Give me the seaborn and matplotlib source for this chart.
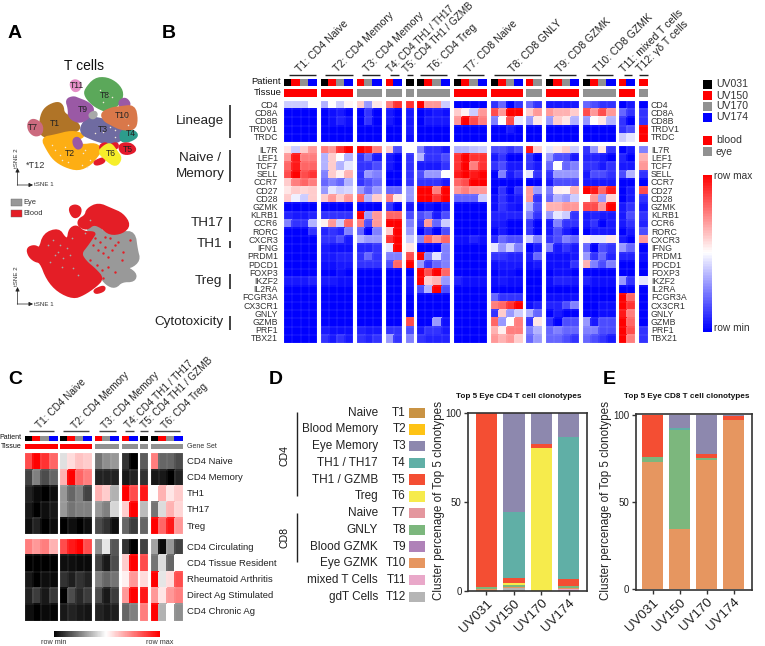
import numpy as np
import pandas as pd
import matplotlib
matplotlib.use("Agg")
import matplotlib.pyplot as plt
from matplotlib.colors import LinearSegmentedColormap, ListedColormap
import seaborn as sns

sns.set_theme(style="white")
plt.rcParams['font.family'] = ['Liberation Sans', 'DejaVu Sans']

W, H = 765, 646
# ---------- Panel B data (0 = row min, 5 = mid, 10 = row max)
GENES_TOP = ["CD4", "CD8A", "CD8B", "TRDV1", "TRDC"]
GENES_BOT = ["IL7R", "LEF1", "TCF7", "SELL", "CCR7", "CD27", "CD28", "GZMK", "KLRB1", "CCR6", "RORC", "CXCR3", "IFNG",
             "PRDM1", "PDCD1", "FOXP3", "IKZF2", "IL2RA", "FCGR3A", "CX3CR1", "GNLY", "GZMB", "PRF1", "TBX21"]
CD4 = [4,4,4,5, 3.5,5,4,5.2, 6,3,5.5, 7.5,9, 9, 10,7,7,4, 0,0,0,0, 1,2,0,1,2,1, .5,.5,.5,.5, 2,1.5,1,1, 0,.5, 0]
CD8A = [0,0,0,0, 0,.3,.5,0, 0,1,0, .5,0, .5, 0,.3,.5,.3, 6,5.3,4,7, 8.5,7,10,10,6,7, 7,6.5,6.5,6, 8.5,7,8.5,7, 2,1, 1]
CD8B = [0,0,0,0, 0,.3,.7,.3, 0,1,0, .5,0, .5, 0,.5,.5,.5, 7,10,8.5,7.5, 2.5,5,8.5,4.5,3,5.5, 3,6,5.5,3.5, 3,5,5.5,3.5, 1,0, 1]
TRDV1 = [0,0,0,0, 0,0,0,0, 0,0,0, 0,0, .5, 0,0,0,0, 0,0,0,0, 0,0,.5,0,0,0, 0,0,0,0, 0,0,0,0, 1,1.5, 10]
TRDC = [0,0,0,0, 0,0,0,0, 0,0,0, 0,0, .3, 0,0,0,0, 0,0,0,0, 0,0,0,0,0,0, 0,0,0,0, 0,0,0,0, 4,4.5, 10]
IL7R = [5.5,4,6,7, 7.5,7,9,10, 10,9.5,7.5, 6,1.5, 5, 2.5,1,1,.5, 3.5,3.5,3.8,4, 1.5,1.5,1,1.5,9.5,6, 4.5,5.5,6,4, 1,3,5.5,1, 0,.5, 2.5]
LEF1 = [7,9.5,7.5,7.5, 3.5,6,5,3.5, 1,2,.5, .5,0, 1, 3.5,1,1,1.5, 9,10,9,9, .5,1,0,0,1,0, 3,1.5,1.5,.5, .7,.7,.5,0, .7,0, 6.5]
TCF7 = [8,9.5,8,8, 3.5,6,3.5,4.5, 1,1,1.5, .5,0, 1, .5,.5,.5,1, 9,10,7.5,9, 1,1.5,.5,.5,1,.5, 2,5,2,2.5, 1,1,.5,1, .5,.5, 7]
SELL = [8.5,10,8.5,9, 2.5,6,5.3,6.5, 1,3,2.5, 0,0, 1, 1.5,3,3,5, 9.5,10,9.5,10, 0,2.5,.5,1,4.5,1, 1,3,3,3, .5,1.5,1.5,1, 1.5,3.5, 1]
CCR7 = [6,7.5,8,7.5, 2,2.5,2,3.5, 1,1.5,2, 0,0, 1, 1,1,1,.5, 8,8.5,10,10, 0,0,0,0,0,0, .5,1.5,1.5,1.5, .5,.5,.5,.5, 0,0, 0]
CD27 = [5.5,6,5.8,6, 3,4.5,4,4.2, 3,2,3, 2,2, 3, 10,10,7.5,10, 7,7.5,7,7, 0,1,0,1,7,3, 2.5,5.3,5.2,6.5, 10,9.5,8,9.5, 0,.5, 8.5]
CD28 = [6,4.7,4,6, 6,7,6,7, 8,3.5,6, 7.5,5.5, 3, 10,10,9,10, 2,2,2,4, .3,1,.3,.5,7,1, 2,3.5,3,4, 5,7,3,5.8, 0,.5, 1]
GZMK = [0,0,0,0, 0,0,0,0, 0,0,0, 1,0, .5, 0,.3,0,.5, 0,0,0,0, .3,1,.5,.3,3.5,1.5, 6.5,6.5,7,7, 8.5,8.5,7,10, .5,1, .5]
KLRB1 = [.7,.5,.5,.7, 1,1,1,1, 10,3,7, 8,8, 1.5, 1.5,2,.5,1.5, 0,0,0,0, .7,.7,.7,.7,2.5,1, 3,4.5,4,1, .5,.7,.5,.5, .5,1.5, 1]
CCR6 = [2.5,1,1,3.5, 5.3,7,4,8, 7.5,1.5,7, 10,10, 2.5, 1,7,2,4, 0,0,0,0, .5,.5,0,0,1,0, .5,2.5,1,1, .5,1,0,.5, .5,1, .7]
RORC = [0,0,0,1, .7,1,.7,2.5, 2,0,2.5, 6,10, 3, 0,1,0,1.5, 0,0,0,0, 0,.5,0,0,1,0, .5,1.5,.5,0, 0,.5,.5,.5, 0,.5, 1.5]
CXCR3 = [0,0,0,0, 1,1,1.5,.5, 3.5,3,3, 9,10, 4, 2.5,8,7,8, .3,.3,.7,.3, .8,2,1.5,1.5,4,2.5, 1,1.5,2.5,2, 5.2,4.5,4.5,5.5, .5,0, 7]
IFNG = [0,0,0,0, .5,.3,.3,.3, .7,.7,1, 4.5,10, 5.5, 0,0,0,2.5, 0,0,0,0, 4.5,3,4,2.5,0,.5, 2.5,.5,1,.5, 2,0,1.5,1, 3,2, 0]
PRDM1 = [0,0,0,0, .5,.5,.7,.7, 1,2,1, 2.5,2.5, 8.5, 10,2.5,4.5,2.5, 0,0,0,0, 1,1,.7,.7,.5,2, .3,.3,.3,.5, 3,1,2,.7, .7,.7, .3]
PDCD1 = [0,0,0,0, .3,.3,.5,.5, 1,1,1, 1.5,8, 10, 3,1,2,2.5, 0,0,0,0, .3,.5,.5,.5,.3,.5, .3,.3,.3,1, 6.5,2.5,1.5,2.5, 0,0, 0]
FOXP3 = [0,0,0,0, 0,0,.3,0, 0,0,0, 0,0, 0, 10,8.5,10,8, 0,0,0,0, 0,.3,.3,0,0,0, 0,.3,.3,0, 0,0,0,0, 0,0, 0]
IKZF2 = [.5,.5,.5,.7, .5,.5,.3,.3, 0,0,0, 0,0, .5, 10,6,6.5,3, .7,.3,.3,.3, .3,.5,.3,.3,0,0, .3,.7,.7,.5, .7,.3,.3,.3, 3,1, 4.5]
IL2RA = [0,0,0,0, 0,0,0,0, 0,0,0, 0,0, .3, 1.5,3.5,10,1.5, 0,0,0,0, 0,0,0,0,0,0, 0,0,0,0, 0,0,0,0, 0,0, 0]
FCGR3A = [0,0,0,0, 0,0,0,0, 0,0,0, 0,0, 0, 0,0,0,0, 0,0,0,0, 2,1,1,1,0,0, .3,.3,.3,.3, 0,0,0,0, 10,8, 0]
CX3CR1 = [0,0,0,0, 0,0,0,0, 0,0,0, 0,0, 0, 0,0,0,0, 0,0,0,0, 7.5,8,9,10,.3,.7, .7,.7,1.5,2.5, 0,0,.3,.3, 10,9, 0]
GNLY = [0,0,0,0, 0,0,0,0, 0,0,0, 0,0, 0, 0,0,0,0, 0,0,0,0, 1,6,3,4,3.5,2, 0,.5,0,0, 0,0,.3,.3, 9.5,7.5, 0]
GZMB = [0,0,0,0, 0,0,0,0, 0,0,0, 0,0, 8.5, 0,0,3,.3, 0,0,0,0, 8,3,5,7.5,1,5.5, 1,0,1.5,1.5, 3,.5,1.5,1.5, 10,8, 0]
PRF1 = [0,0,0,0, .5,.3,.3,.3, .7,.5,.5, 1,1, 1.5, .5,1,1,.5, 0,0,0,0, 6.5,5.3,7.5,7.5,2.5,3.5, 2,2.5,2,2, 2.5,2.5,1.5,1.5, 10,8.5, 1]
TBX21 = [0,0,0,0, 1,.5,1,.5, 1,.7,1, 3,1, 2.5, 1,.7,.7,.7, 0,0,0,0, 7,6.5,7,6,2,3, 2,2,1.5,1, 2,1.5,1,.5, 10,7.5, 1]
BLOCK_TOP = [CD4, CD8A, CD8B, TRDV1, TRDC]
BLOCK_BOT = [IL7R, LEF1, TCF7, SELL, CCR7, CD27, CD28, GZMK, KLRB1, CCR6, RORC, CXCR3, IFNG, PRDM1, PDCD1, FOXP3,
             IKZF2, IL2RA, FCGR3A, CX3CR1, GNLY, GZMB, PRF1, TBX21]
# patient code 0 UV031, 1 UV150, 2 UV170, 3 UV174; tissue 0 blood, 1 eye
PATIENT_B = [0,1,2,3, 0,1,2,3, 1,2,3, 1,3, 0, 0,1,2,3, 0,1,2,3, 0,1,2,3,1,2, 0,1,2,3, 0,1,2,3, 1,3, 1]
TISSUE_B = [0,0,0,0, 0,0,0,0, 1,1,1, 1,1, 1, 1,1,1,1, 0,0,0,0, 0,0,0,0,1,1, 0,0,0,0, 1,1,1,1, 0,0, 1]
GROUP_TITLES_B = ["T1: CD4 Naive", "T2: CD4 Memory", "T3: CD4 Memory", "T4: CD4 TH1 / TH17", "T5: CD4 TH1 / GZMB",
                  "T6: CD4 Treg", "T7: CD8 Naive", "T8: CD8 GNLY", "T9: CD8 GZMK", "T10: CD8 GZMK",
                  "T11: mixed T cells", "T12: \u03b3\u03b4 T cells"]
# ---------- Panel C data
GENESETS_TOP = ["CD4 Naive", "CD4 Memory", "TH1", "TH17", "Treg"]
GENESETS_BOT = ["CD4 Circulating", "CD4 Tissue Resident", "Rheumatoid Arthritis", "Direct Ag Stimulated", "CD4 Chronic Ag"]
C_NAIVE = [8.5,10,9,8, 4.4,5.7,6.2,6, 2.3,2.8,3, 1,0, 1.8, 7.5,2,2,1.5]
C_MEMORY = [1.3,2.5,1.5,2, 6.5,10,8,7.5, .7,.7,.7, .5,.7, 1, .5,.5,0,.7]
C_TH1 = [.7,.2,0,.3, 3,2,2.5,1.3, 6.5,6,3.5, 10,8.5, 9.5, 5,6.5,5.5,6]
C_TH17 = [.5,0,.3,.5, 3,2.3,2.5,2.5, 3,2.5,4.2, 6,10, 3.7, 2.3,4.3,6.5,5.8]
C_TREG = [.3,.7,0,.3, 0,.3,0,.3, 1.5,1,.3, 2,1.2, 2, 10,8,9.5,7]
C_CIRC = [7.5,7,7.5,6.5, 8.5,9.5,10,8.5, 2.8,4.5,1.7, 1,0, 1.3, 3.2,.2,3,1.3]
C_RESID = [0,0,0,0, .3,.3,.2,.2, 1.3,.5,1.5, 6,10, 8.5, 2.3,4.3,2,5]
C_RA = [.5,0,.3,.2, 1,.6,1,.7, 2.5,2,2.3, 5.3,7, 5.7, 10,4.5,5.7,8.5]
C_DIRECT = [.7,1.2,.5,1.1, 0,1.5,.8,1.2, 1.5,.5,1.2, 7,10, 9.5, 7,5.5,7,7.5]
C_CHRONIC = [.3,0,.2,.1, .5,.7,.5,.4, .7,.5,.6, 2,2.5, 7.5, 10,3.5,5,2.8]
# ---------- Panels D, E data
PATIENTS = ["UV031", "UV150", "UV170", "UV174"]
LEGEND_NAMES = ["Naive", "Blood Memory", "Eye Memory", "TH1 / TH17", "TH1 / GZMB", "Treg", "Naive", "GNLY", "Blood GZMK",
                "Eye GZMK", "mixed T Cells", "gdT Cells"]
CLUSTERS = ["T1", "T2", "T3", "T4", "T5", "T6", "T7", "T8", "T9", "T10", "T11", "T12"]
D_T12 = [0, 1.5, 0, 0]; D_T11 = [0, 0, 0, 1]; D_T10 = [1, 1, 0, .7]; D_T8 = [1.5, 1, 0, 1.3]; D_T6 = [0, 1, 80.5, 0]
D_T5 = [97.5, 3, 2, 4]; D_T4 = [0, 37, 0, 79.5]; D_T3 = [0, 55.5, 17.5, 13.5]
E_T10 = [73, 34.5, 74.5, 97.5]; E_T8 = [3, 57, 1, 0]; E_T4 = [0, 1, 0, 0]; E_T5 = [24, 0, 2, 2]; E_T3 = [0, 7.5, 22.5, .5]

# ---------- Panel A tSNE outlines (plot units)
T1_OUT = ([76,82,98,128,142,144,165,198,172,120,85,76], [165,130,110,98,108,130,143,172,188,203,198,182])
T2_OUT = ([82,120,170,208,192,176,200,242,258,246,226,190,150,118,98], [205,198,185,195,205,216,228,222,240,256,282,299,288,268,238])
T3_OUT = ([198,220,260,302,334,322,286,250,224,203], [172,143,148,163,185,207,222,212,202,192])
T4_OUT = ([318,345,370,346,318], [184,178,195,212,214])
T5_OUT = ([313,345,364,340,318], [224,220,240,252,247])
T5B_OUT = ([238,267,267,243], [276,264,276,284])
T5C_OUT = ([258,277,272,256], [224,220,237,237])
T5D_OUT = ([288,307,307,290], [224,220,234,234])
T6_OUT = ([252,270,287,303,318,302,274], [246,228,222,244,265,288,268])
T7_OUT = ([40,55,80,80,60,43], [160,148,163,190,197,182])
T8_OUT = ([212,240,275,307,323,312,276,249,228,212], [60,27,25,43,70,102,123,112,97,76])
T9_OUT = ([155,175,190,216,235,227,195,163,163], [90,82,88,98,115,137,158,142,115])
T9B_OUT = ([313,330,344,337,318], [95,85,100,114,114])
T9C_OUT = ([176,190,202,190,178], [208,203,225,237,226])
T10_OUT = ([260,290,315,357,365,357,320,289,268], [130,116,113,108,150,177,177,162,150])
T11_OUT = ([166,180,197,192,175], [40,30,40,60,63])
T12_OUT = ([225,240,245,235,225], [132,125,135,145,140])
T_SPECK_X = [120,135,150,110,215,225,160,205,140,265,280,255,290,330,340,300,285,240,265,300,200,210]
T_SPECK_Y = [240,255,230,225,290,270,275,250,270,95,75,60,80,140,165,180,170,190,185,200,285,240]
BLOOD_MAIN = ([38,60,75,88,130,148,160,165,185,205,240,232,215,195,210,240,262,242,205,175,130,98,78,60,43],
              [160,153,165,118,103,130,135,103,93,113,113,125,150,175,200,225,250,272,297,308,288,252,200,197,182])
BLOOD_TOP = ([192,213,218,250,287,322,343,322,285,260,235,215,192], [75,63,43,27,43,58,90,112,117,95,85,102,92])
BLOOD_ISLE = ([163,180,197,192,175], [40,31,40,62,67])
BLOOD_SMALL = ([238,267,267,243], [286,274,286,294])
EYE_MAIN = ([195,220,235,260,320,357,364,372,346,322,362,357,320,300,275,255,240,210],
            [175,150,118,108,113,113,165,195,217,212,235,257,257,277,267,240,225,200])
EYE_UP = ([216,240,264,240,220], [85,80,105,122,107])
RED_SPECK_X = [240,255,270,285,300,250,265,290,310,235,270,325,345,280,260,225,300,265,280,245,320]
RED_SPECK_Y = [130,140,155,130,150,165,175,165,140,150,125,170,135,215,225,195,230,250,185,210,195]
GREY_SPECK_X = [130,120,145,165,175,100,155,115,190,140,210,225,170,135,105]
GREY_SPECK_Y = [170,180,190,180,220,150,160,135,240,215,115,75,130,150,200]

C_BLUE = "#0000ff"; C_RED = "#ff0000"; C_GREY = "#919191"
PAT_CMAP = ListedColormap(["#000000", C_RED, C_GREY, C_BLUE])
TIS_CMAP = ListedColormap([C_RED, C_GREY])
BWR = LinearSegmentedColormap.from_list("bwr3", [C_BLUE, "#ffffff", C_RED])
KWR = LinearSegmentedColormap.from_list("kwr3", ["#000000", "#ffffff", C_RED])
LEG_COLORS = ["#C99344", "#FEC315", "#8D88AE", "#60AFA6", "#F44E33", "#F6EB4C", "#E4979E", "#7CB77D", "#AF82B8",
              "#E69660", "#E9A8C9", "#B5B5B5"]

fig = plt.figure(figsize=(W / 100, H / 100), dpi=100, facecolor="white")


def px_axes(x0, y0, x1, y1, **kw):
    return fig.add_axes([x0 / W, 1 - y1 / H, (x1 - x0) / W, (y1 - y0) / H], **kw)


ov = px_axes(0, 0, W, H, zorder=10)
ov.set_xlim(0, W); ov.set_ylim(H, 0); ov.axis("off"); ov.patch.set_alpha(0)


def txt(x, y, s, size, ha="left", va="center", **kw):
    ov.text(x, y, s, fontsize=size, ha=ha, va=va, color=kw.pop("color", "#111111"), **kw)


def rule(x0, y0, x1, y1, lw=1.0, color="#222222"):
    ov.plot([x0, x1], [y0, y1], color=color, lw=lw, solid_capstyle="butt")


def rounded(out):
    pts = np.column_stack(out).astype(float)
    for _ in range(2):
        nxt = np.roll(pts, -1, axis=0)
        pts = np.column_stack([.75 * pts + .25 * nxt, .25 * pts + .75 * nxt]).reshape(-1, 2)
    return pts[:, 0], pts[:, 1]


def hm(data, x0, y0, x1, y1, cmap, vmin=0, vmax=10, grid=True):
    ax = px_axes(x0, y0, x1, y1)
    arr = pd.DataFrame(np.atleast_2d(np.array(data, dtype=float)))
    sns.heatmap(arr, ax=ax, cmap=cmap, vmin=vmin, vmax=vmax, cbar=False, xticklabels=False, yticklabels=False)
    ax.collections[0].set_edgecolor("face"); ax.collections[0].set_linewidth(0.2)
    if grid:
        ax.hlines(np.arange(arr.shape[0] + 1), 0, arr.shape[1], color="white", lw=.3, alpha=.28)
        ax.vlines(np.arange(arr.shape[1] + 1), 0, arr.shape[0], color="white", lw=.3, alpha=.28)
    ax.set_xlabel(""); ax.set_ylabel("")
    return ax


for letter, x, y in [("A", 14.5, 33), ("B", 169, 34), ("C", 15, 379), ("D", 276, 379), ("E", 609, 379)]:
    txt(x, y, letter, 14, ha="center", fontweight="bold", color="black")

# ---------- Panel A
axA = px_axes(15, 70, 145, 180)
axA.set_xlim(0, 390); axA.set_ylim(330, 0); axA.axis("off")
for out, col in [(T1_OUT, "#B07427"), (T2_OUT, "#FDAE14"), (T3_OUT, "#6F6BA1"), (T4_OUT, "#2D9C8C"), (T5_OUT, "#E31A2B"),
                 (T5B_OUT, "#E31A2B"), (T5C_OUT, "#E31A2B"), (T5D_OUT, "#E31A2B"), (T6_OUT, "#F6EE2A"),
                 (T7_OUT, "#CB6A7E"), (T8_OUT, "#5BA85A"), (T9_OUT, "#9A59A5"), (T9B_OUT, "#9A59A5"), (T9C_OUT, "#9A59A5"),
                 (T10_OUT, "#D9784A"), (T11_OUT, "#E58EC6"), (T12_OUT, "#A8A8A8")]:
    xs, ys = rounded(out)
    axA.fill(xs, ys, color=col, lw=2.2, joinstyle="round")
sns.scatterplot(x=T_SPECK_X, y=T_SPECK_Y, color="#f2e7d8", s=1.2, linewidth=0, ax=axA, legend=False)
axA.set_xlim(0, 390); axA.set_ylim(330, 0)
for lab, x, y in [("T1", 55, 123), ("T2", 70, 153), ("T3", 103, 130), ("T4", 131, 134), ("T5", 128, 149), ("T6", 111, 153),
                  ("T7", 33, 127), ("T8", 105, 96), ("T9", 83, 109), ("T10", 122, 115), ("T11", 77, 85)]:
    txt(x, y, lab, 6.2, ha="center", color="#222222")
txt(84, 66, "T cells", 10, ha="center")
txt(36, 166, "*T12", 6.6, ha="center", color="#333333")

axA2 = px_axes(15, 195, 145, 315)
axA2.set_xlim(0, 390); axA2.set_ylim(360, 0); axA2.axis("off")
for out, col in [(EYE_MAIN, "#999999"), (EYE_UP, "#999999"), (BLOOD_MAIN, "#E41E26"), (BLOOD_TOP, "#E41E26"),
                 (BLOOD_ISLE, "#E41E26"), (BLOOD_SMALL, "#E41E26")]:
    xs, ys = rounded(out)
    axA2.fill(xs, ys, color=col, lw=2.2, joinstyle="round")
sns.scatterplot(x=RED_SPECK_X, y=RED_SPECK_Y, color="#E41E26", s=3, linewidth=0, ax=axA2, legend=False)
sns.scatterplot(x=GREY_SPECK_X, y=GREY_SPECK_Y, color="#a9a9a9", s=1.5, linewidth=0, ax=axA2, legend=False)
axA2.set_xlim(0, 390); axA2.set_ylim(360, 0)

for oy, ly in [(185, 158), (304, 276)]:
    ov.annotate("", xy=(17.5, oy - 17), xytext=(17.5, oy + .3), arrowprops=dict(arrowstyle="-|>,head_width=.1,head_length=.2", lw=.5, color="#222222", shrinkA=0, shrinkB=0))
    ov.annotate("", xy=(33, oy), xytext=(17.2, oy), arrowprops=dict(arrowstyle="-|>,head_width=.1,head_length=.2", lw=.5, color="#222222", shrinkA=0, shrinkB=0))
    txt(17, ly, "tSNE 2", 4.4, ha="center", rotation=90, color="#333333")
    txt(34, oy, "tSNE 1", 4.4, color="#333333")
for name, y0, col in [("Eye", 199, "#999999"), ("Blood", 210, "#E41E26")]:
    ov.fill_between([11, 21.7], y0, y0 + 6.8, color=col, lw=.3, edgecolor="#666666")
    txt(23.5, y0 + 3.4, name, 5.4, color="#333333")

# ---------- Panel B
B_SPANS = [(0, 4, 284, 317), (4, 8, 320.5, 353), (8, 11, 357, 381.7), (11, 13, 385.7, 401.7), (13, 14, 405.7, 414),
           (14, 18, 417, 450), (18, 22, 454, 486.7), (22, 26, 490.7, 523.3), (26, 28, 526, 542), (28, 32, 546, 579),
           (32, 36, 582.7, 615.7), (36, 38, 619, 635), (38, 39, 639, 647.7)]
top = np.array(BLOCK_TOP, dtype=float); bot = np.array(BLOCK_BOT, dtype=float)
for a, b, x0, x1 in B_SPANS:
    hm([PATIENT_B[a:b]], x0, 79, x1, 86.2, PAT_CMAP, 0, 3, grid=False)
    hm([TISSUE_B[a:b]], x0, 89.3, x1, 97.3, TIS_CMAP, 0, 1, grid=False)
    hm(top[:, a:b], x0, 101, x1, 142, BWR)
    hm(bot[:, a:b], x0, 146, x1, 343, BWR)
B_RULES = [(289, 315.7), (325, 352.7), (362, 380), (390, 399.3), (406.7, 413.3), (420, 447.3), (456.7, 484), (494.3, 540.7),
           (549, 576), (586.3, 613), (623.7, 632.3), (639.3, 647.7)]
B_STARTS = [298, 335, 365, 389, 405, 430, 467, 511, 558, 596, 622, 638]
for (x0, x1), xs, title in zip(B_RULES, B_STARTS, GROUP_TITLES_B):
    rule(x0, 75.3, x1, 75.3)
    txt(xs, 70.5, title, 7.1 if title.startswith(("T4", "T5")) else 7.6, rotation=45, rotation_mode="anchor", color="#222222")
txt(281, 82, "Patient", 6.8, ha="right"); txt(281.5, 92.5, "Tissue", 6.8, ha="right")
for names, y0, y1 in [(GENES_TOP, 101, 142), (GENES_BOT, 146, 343)]:
    step = (y1 - y0) / len(names)
    for i, g in enumerate(names):
        yy = y0 + (i + .5) * step
        txt(278, yy, g, 6.3, ha="right", color="#333333")
        txt(651, yy, g, 6.3, color="#333333")
txt(224, 121, "Lineage", 9.7, ha="right", color="#222222")
txt(200, 158, "Naive /", 9.7, ha="center", color="#222222")
txt(200, 174.5, "Memory", 9.7, ha="center", color="#222222")
txt(223.5, 222.5, "TH17", 9.7, ha="right", color="#222222")
txt(222.5, 244, "TH1", 9.7, ha="right", color="#222222")
txt(222.5, 281, "Treg", 9.7, ha="right", color="#222222")
txt(223.5, 322.5, "Cytotoxicity", 9.7, ha="right", color="#222222")
for y0, y1 in [(105, 138), (150, 182), (216.7, 231.7), (241, 248), (274, 289), (315.7, 330)]:
    rule(229.7, y0, 229.7, y1, lw=1.2)
for name, col, y0 in [("UV031", "#000000", 79.5), ("UV150", C_RED, 91), ("UV170", C_GREY, 101.5), ("UV174", C_BLUE, 112.5),
                      ("blood", C_RED, 135.5), ("eye", C_GREY, 147)]:
    ov.fill_between([703, 712.3], y0, y0 + 9.2, color=col, lw=0)
    txt(716, y0 + 4.6, name, 7.6, color="#333333")
hm(np.linspace(10, 0, 101).reshape(-1, 1), 703, 175, 712.3, 331.7, BWR, grid=False)
txt(714, 176, "row max", 7.3, color="#333333"); txt(714, 328, "row min", 7.3, color="#333333")

# ---------- Panel C
C_SPANS = [(0, 4, 25, 57.7), (4, 8, 60, 92.3), (8, 11, 95, 119.3), (11, 13, 121.7, 137.7), (13, 14, 140.3, 148.3), (14, 18, 150.7, 183.3)]
ctop = np.array([C_NAIVE, C_MEMORY, C_TH1, C_TH17, C_TREG]); cbot = np.array([C_CIRC, C_RESID, C_RA, C_DIRECT, C_CHRONIC])
for a, b, x0, x1 in C_SPANS:
    hm([PATIENT_B[a:b]], x0, 436, x1, 441.3, PAT_CMAP, 0, 3, grid=False)
    hm([TISSUE_B[a:b]], x0, 443.7, x1, 449.3, TIS_CMAP, 0, 1, grid=False)
    hm(ctop[:, a:b], x0, 453.3, x1, 534.3, KWR)
    hm(cbot[:, a:b], x0, 539, x1, 620.7, KWR)
C_RULES = [(29, 54), (63.3, 88.7), (99, 115.7), (125, 133.7), (140.3, 148.3), (154.3, 179.7)]
C_STARTS = [38, 73, 103, 127, 143, 163]
for (x0, x1), xs, title in zip(C_RULES, C_STARTS, GROUP_TITLES_B[:6]):
    rule(x0, 431.3, x1, 431.3, color="#444444")
    txt(xs, 427, title, 7.2, rotation=45, rotation_mode="anchor", color="#222222")
txt(21.5, 437.5, "Patient", 5, ha="right"); txt(22, 446, "Tissue", 5, ha="right")
txt(187, 446, "Gene Set", 5, color="#333333")
for names, y0 in [(GENESETS_TOP, 453.3), (GENESETS_BOT, 539)]:
    for i, g in enumerate(names):
        txt(186.7, y0 + (i + .5) * 16.2, g, 6.8, color="#222222")
hm(np.linspace(0, 10, 201).reshape(1, -1), 54, 630.7, 160.3, 637, KWR, grid=False)
txt(54, 643, "row min", 5.2, ha="center", color="#333333"); txt(160, 643, "row max", 5.2, ha="center", color="#333333")

# ---------- Panel D legend
for i, (nm, cl, col) in enumerate(zip(LEGEND_NAMES, CLUSTERS, LEG_COLORS)):
    yy = 412.7 + i * 16.73
    txt(378, yy, nm, 8.5, ha="right", color="#222222")
    txt(406, yy, cl, 8.5, ha="right", color="#222222")
    ov.fill_between([408.7, 425], yy - 5.2, yy + 5.2, color=col, lw=0)
rule(297, 412, 297, 495.7); rule(297, 512.7, 297, 562)
txt(285, 455, "CD4", 7.6, ha="center", rotation=90); txt(285, 538, "CD8", 7.6, ha="center", rotation=90)


def stacked(box, xlim, ylim, series, title, title_x, ylab_x):
    ax = px_axes(*box)
    bottoms = np.zeros(4)
    for vals, col in series:
        sns.barplot(x=PATIENTS, y=vals, bottom=bottoms, color=col, width=.78, saturation=1, ax=ax, linewidth=0)
        bottoms = bottoms + np.array(vals, dtype=float)
    ax.set_xlim(*xlim); ax.set_ylim(*ylim)
    ax.set_yticks([0, 50, 100]); ax.set_yticklabels(["0", "50", "100"], fontsize=7, color="#222222")
    ax.set_xticks(range(4))
    ax.set_xticklabels(PATIENTS, fontsize=9.6, rotation=45, ha="right", rotation_mode="anchor", color="#222222")
    ax.tick_params(axis="both", length=3, width=1, color="#333333", pad=1.5, bottom=True, left=True)
    ax.set_xlabel(""); ax.set_ylabel("")
    for s in ax.spines.values():
        s.set_visible(True); s.set_color("#333333"); s.set_linewidth(1.2)
    ax.grid(False)
    txt(title_x, 396, title, 5.9, fontweight="bold", color="#111111")
    txt(ylab_x, 500.5, "Cluster percenage of Top 5 clonotypes", 8.4, ha="center", rotation=90, color="#222222")


stacked((468, 412.7, 587, 591), (-.675, 3.67), (0, 100.4),
        [(D_T12, LEG_COLORS[11]), (D_T11, LEG_COLORS[10]), (D_T10, LEG_COLORS[9]), (D_T8, LEG_COLORS[7]), (D_T6, LEG_COLORS[5]),
         (D_T5, LEG_COLORS[4]), (D_T4, LEG_COLORS[3]), (D_T3, LEG_COLORS[2])],
        "Top 5 Eye CD4 T cell clonotypes", 456, 439)
stacked((635.7, 414.3, 751.7, 590), (-.63, 3.67), (-.5, 100.5),
        [(E_T10, LEG_COLORS[9]), (E_T8, LEG_COLORS[7]), (E_T4, LEG_COLORS[3]), (E_T5, LEG_COLORS[4]), (E_T3, LEG_COLORS[2])],
        "Top 5 Eye CD8 T cell clonotypes", 624, 606)

fig.savefig("out.png", dpi=100, facecolor="white")
